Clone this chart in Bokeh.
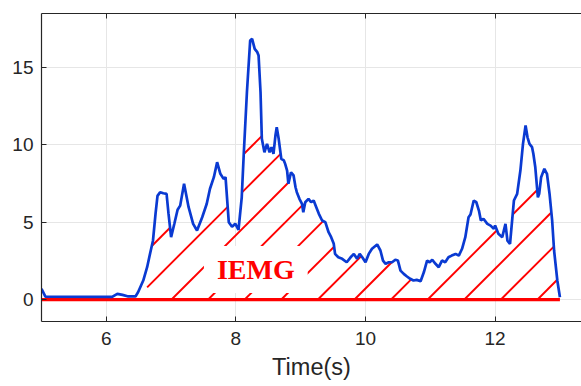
import numpy as np
from bokeh.plotting import figure
from bokeh.models import Range1d, LinearAxis, FixedTicker, Label
from bokeh.embed import file_html
from bokeh.resources import INLINE

# ---- data ----
time = [5.00, 5.06, 6.09, 6.17, 6.25, 6.34, 6.45, 6.49, 6.57, 6.63, 6.68, 6.72, 6.76, 6.79,
        6.83, 6.88, 6.93, 6.96, 7.00, 7.05, 7.10, 7.14, 7.20, 7.27, 7.34, 7.40, 7.48, 7.55,
        7.60, 7.66, 7.71, 7.76, 7.81, 7.84, 7.89, 7.94, 7.99, 8.04, 8.09, 8.12, 8.17, 8.22,
        8.25, 8.29, 8.33, 8.35, 8.38, 8.40, 8.44, 8.48, 8.52, 8.55, 8.58, 8.61, 8.63, 8.66,
        8.70, 8.74, 8.76, 8.79, 8.81, 8.85, 8.89, 8.92, 8.94, 8.98, 9.02, 9.04, 9.07, 9.12,
        9.16, 9.20, 9.24, 9.28, 9.33, 9.38, 9.43, 9.47, 9.51, 9.53, 9.58, 9.64, 9.71, 9.77,
        9.82, 9.87, 9.91, 9.95, 10.00, 10.05, 10.10, 10.18, 10.23, 10.27, 10.31, 10.36,
        10.41, 10.46, 10.50, 10.54, 10.59, 10.64, 10.69, 10.74, 10.79, 10.85, 10.90, 10.95,
        10.99, 11.03, 11.08, 11.13, 11.18, 11.23, 11.28, 11.33, 11.39, 11.44, 11.49, 11.54,
        11.59, 11.62, 11.67, 11.71, 11.75, 11.78, 11.82, 11.88, 11.93, 11.98, 12.00, 12.05,
        12.11, 12.16, 12.19, 12.23, 12.29, 12.34, 12.39, 12.43, 12.47, 12.50, 12.53, 12.57,
        12.59, 12.62, 12.66, 12.68, 12.71, 12.76, 12.80, 12.84, 12.88, 12.91, 12.96, 13.00]
emg = [0.69, 0.19, 0.17, 0.37, 0.30, 0.20, 0.20, 0.47, 1.23, 2.09, 3.06, 3.80, 5.55, 6.70,
       6.94, 6.87, 6.83, 5.55, 4.03, 4.90, 5.80, 6.07, 7.48, 5.97, 4.89, 4.46, 5.32, 6.19,
       7.16, 7.91, 8.88, 8.13, 7.80, 7.91, 5.00, 4.70, 4.90, 4.50, 6.61, 9.31, 13.40, 16.74,
       16.85, 16.20, 15.99, 15.77, 13.40, 10.39, 9.52, 10.06, 9.52, 9.85, 9.42, 10.60, 11.14, 10.39,
       9.10, 8.99, 8.77, 8.34, 7.48, 8.23, 8.02, 7.26, 6.94, 6.51, 6.19, 5.64, 6.29, 6.51,
       6.29, 6.40, 5.97, 5.54, 5.11, 5.00, 4.35, 4.03, 3.60, 2.95, 2.73, 2.63, 2.41, 2.73,
       2.95, 2.63, 2.95, 2.73, 2.41, 2.95, 3.28, 3.56, 3.17, 2.52, 2.31, 2.41,
       2.41, 2.57, 2.52, 1.87, 1.66, 1.49, 1.34, 1.23, 1.27, 1.18, 1.76, 2.52,
       2.41, 2.57, 2.31, 2.09, 2.52, 2.41, 2.73, 2.84, 2.95, 2.84, 3.28, 4.03,
       5.32, 5.50, 6.40, 6.29, 5.75, 5.11, 5.22, 4.89, 4.78, 4.57, 4.78, 4.25,
       4.03, 4.89, 3.81, 3.60, 6.40, 6.83, 8.34, 10.06, 11.25, 10.49, 10.06, 9.85,
       9.42, 8.55, 6.61, 6.83, 7.91, 8.45, 8.13, 6.83, 5.11, 3.17, 1.23, 0.15]
onset = 6.63          # start of the integrated (hatched) area
x_ticks = [6, 8, 10, 12, 14]
y_ticks = [0, 5, 10, 15]
area_label = "IEMG"
x_label = "Time(s)"

# ---- layout / style ----
W, H = 581, 386
ML, MR, MT, MB = 41, 0, 13, 65
XR = (5.0, 13.333)
YR = (-1.42, 18.49)
HATCH_STEP_PX = 36.6     # horizontal spacing of hatch lines
HATCH_PHASE_PX = 130.0   # baseline crossing of one hatch line (px from frame left)
HATCH_MIN_PX = 16.0      # skip tiny slivers inside narrow peaks
AX = "#262626"
FONT = "Liberation Sans"

t = np.array(time)
e = np.array(emg)

# hatch lines at 45 degrees on screen, clipped to the area under the curve
fw, fh = W - ML - MR, H - MT - MB
ppx = fw / (XR[1] - XR[0])
ppy = fh / (YR[1] - YR[0])
xs_fine = np.linspace(onset, t[-1], 6000)
curve = np.interp(xs_fine, t, e)
hx, hy = [], []
c = HATCH_PHASE_PX - 12 * HATCH_STEP_PX
while c < fw:
    x0 = XR[0] + c / ppx
    yl = (xs_fine - x0) * ppx / ppy
    inside = (yl >= 0) & (yl <= curve)
    idx = np.flatnonzero(inside)
    if idx.size:
        breaks = np.flatnonzero(np.diff(idx) > 1)
        starts = np.r_[idx[0], idx[breaks + 1]]
        ends = np.r_[idx[breaks], idx[-1]]
        for s, en in zip(starts, ends):
            if (xs_fine[en] - xs_fine[s]) * ppx >= HATCH_MIN_PX:
                hx.append([xs_fine[s], xs_fine[en]])
                hy.append([yl[s], yl[en]])
    c += HATCH_STEP_PX

p = figure(width=W, height=H, output_backend="svg", toolbar_location=None,
           x_range=Range1d(*XR), y_range=Range1d(*YR),
           min_border_left=ML, min_border_right=MR, min_border_top=MT,
           min_border_bottom=MB, background_fill_color="white",
           border_fill_color="white", outline_line_color=None)

p.multi_line(hx, hy, line_color="#ff0000", line_width=1.9)

# baseline
p.line([time[0], time[-1]], [0, 0], line_color="#ff0000", line_width=3.2)

# signal
p.line(time, emg, line_color="#0a3ad2", line_width=2.7)

lab = Label(x=8.307, y=1.94, text=area_label, text_align="center", text_baseline="middle",
            text_font="Liberation Serif", text_font_style="bold", text_font_size="28px",
            text_color="#ff0000", background_fill_color="white", padding=(13, 8))
p.add_layout(lab)

# axes styling
for ax in (p.xaxis[0], p.yaxis[0]):
    ax.axis_line_color = AX
    ax.axis_line_width = 1.2
    ax.major_tick_line_color = AX
    ax.major_tick_in = 5
    ax.major_tick_out = 0
    ax.minor_tick_line_color = None
    ax.major_label_text_color = AX
    ax.major_label_text_font = FONT
    ax.major_label_text_font_size = "19px"
p.xaxis[0].ticker = FixedTicker(ticks=x_ticks)
p.yaxis[0].ticker = FixedTicker(ticks=y_ticks)
p.xaxis[0].major_label_standoff = 10
p.yaxis[0].major_label_standoff = 8
p.xaxis[0].axis_label = x_label
p.xaxis[0].axis_label_text_font = FONT
p.xaxis[0].axis_label_text_font_style = "normal"
p.xaxis[0].axis_label_text_font_size = "23.5px"
p.xaxis[0].axis_label_text_color = AX
p.xaxis[0].axis_label_standoff = 6

top = LinearAxis(ticker=FixedTicker(ticks=x_ticks), major_tick_in=5, major_tick_out=0,
                 minor_tick_line_color=None, axis_line_color=AX, axis_line_width=1.2,
                 major_tick_line_color=AX, major_label_text_font_size="1px",
                 major_label_text_color=None, major_label_standoff=0)
p.add_layout(top, "above")

p.xgrid.ticker = FixedTicker(ticks=x_ticks)
p.ygrid.ticker = FixedTicker(ticks=y_ticks)
p.grid.grid_line_color = "#e6e6e6"
p.grid.grid_line_width = 1

open("out.html", "w").write(file_html(p, INLINE))
